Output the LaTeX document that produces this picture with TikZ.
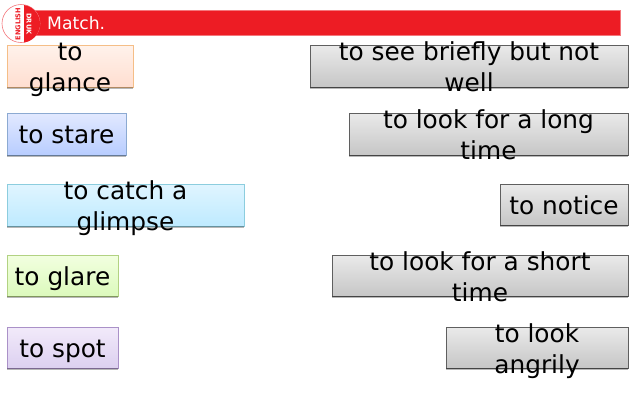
\documentclass[tikz,border=0pt]{standalone}
\usepackage{fontspec}
\setmainfont{DejaVu Sans}
\newcommand{\cardstrut}{\rule[-6pt]{0pt}{24pt}}
\newcommand{\card}[7]{%
  \node[cardbox,#6,minimum width={#4pt-#2pt},minimum height={#5pt-#3pt}] (#1) at ({(#2+#4)/2},{(#3+#5)/2}) {};
  \draw[cardshadow] ([yshift=-0.9pt]#1.south west) -- ([yshift=-0.9pt]#1.south east);
  \node[cardtext] (#1t) at ([yshift=-3.8pt]#1.center) {\cardstrut#7\cardstrut};}
\definecolor{barred}{RGB}{237,28,36}
\tikzset{
  x=1pt,y=-1pt,
  cardbox/.style={rectangle,inner sep=0pt,outer sep=0pt,line width=0.9pt},
  cardshadow/.style={line width=1.6pt,draw=black,draw opacity=0.28},
  cardtext/.style={align=center,text=black,inner sep=0pt,
    font=\fontsize{24.8}{30.6}\selectfont},
  peach/.style={draw={rgb,255:red,245;green,190;blue,135},top color={rgb,255:red,255;green,242;blue,235},bottom color={rgb,255:red,255;green,222;blue,208}},
  blueish/.style={draw={rgb,255:red,140;green,170;blue,210},top color={rgb,255:red,226;green,233;blue,255},bottom color={rgb,255:red,184;green,205;blue,255}},
  cyanish/.style={draw={rgb,255:red,140;green,205;blue,222},top color={rgb,255:red,224;green,245;blue,255},bottom color={rgb,255:red,190;green,234;blue,255}},
  greenish/.style={draw={rgb,255:red,178;green,210;blue,130},top color={rgb,255:red,242;green,255;blue,224},bottom color={rgb,255:red,220;green,250;blue,188}},
  purpleish/.style={draw={rgb,255:red,170;green,145;blue,200},top color={rgb,255:red,242;green,234;blue,250},bottom color={rgb,255:red,220;green,208;blue,240}},
  answer/.style={draw={rgb,255:red,95;green,95;blue,95},top color={rgb,255:red,234;green,234;blue,234},bottom color={rgb,255:red,198;green,198;blue,198}},
}
\begin{document}
\begin{tikzpicture}
\useasboundingbox (0,0) rectangle (640,400);
\node[rectangle,fill=barred,draw=barred!60!white,line width=0.4pt,minimum width=590pt,minimum height=25pt,inner sep=0pt] (bar) at (325,22.5) {};
\node[circle,fill=white,draw=barred!60!white,line width=0.6pt,minimum size=38pt,inner sep=0pt] (logo) at (21,23.5) {};
\fill[barred] (24,5) arc[start angle=-81,end angle=81,radius=19] -- cycle;
\node[rotate=90,text=barred,font=\fontsize{6.6}{8}\selectfont\bfseries,inner sep=0pt] (lefttext) at (18,24) {ENGLISH};
\node[rotate=-90,text=white,font=\fontsize{6.6}{8}\selectfont\bfseries,inner sep=0pt] (righttext) at (29,24) {DRUK};
\node[text=white,anchor=west,inner sep=0pt,font=\fontsize{17.2}{20}\selectfont] (title) at (47,23) {Match.};
\card{a}{7}{45}{133}{87}{peach}{to\\glance}
\card{b}{7}{113}{126}{155}{blueish}{to stare}
\card{c}{7}{184}{244}{226}{cyanish}{to catch a\\glimpse}
\card{d}{7}{255}{118}{296}{greenish}{to glare}
\card{e}{7}{327}{118}{368}{purpleish}{to spot}
\card{f}{310}{45}{628}{87}{answer}{to see briefly but not\\well}
\card{g}{349}{113}{628}{155}{answer}{to look for a long\\time}
\card{h}{500}{184}{628}{225}{answer}{to notice}
\card{i}{332}{255}{628}{296}{answer}{to look for a short\\time}
\card{j}{446}{327}{628}{368}{answer}{to look\\angrily}
\end{tikzpicture}
\end{document}
